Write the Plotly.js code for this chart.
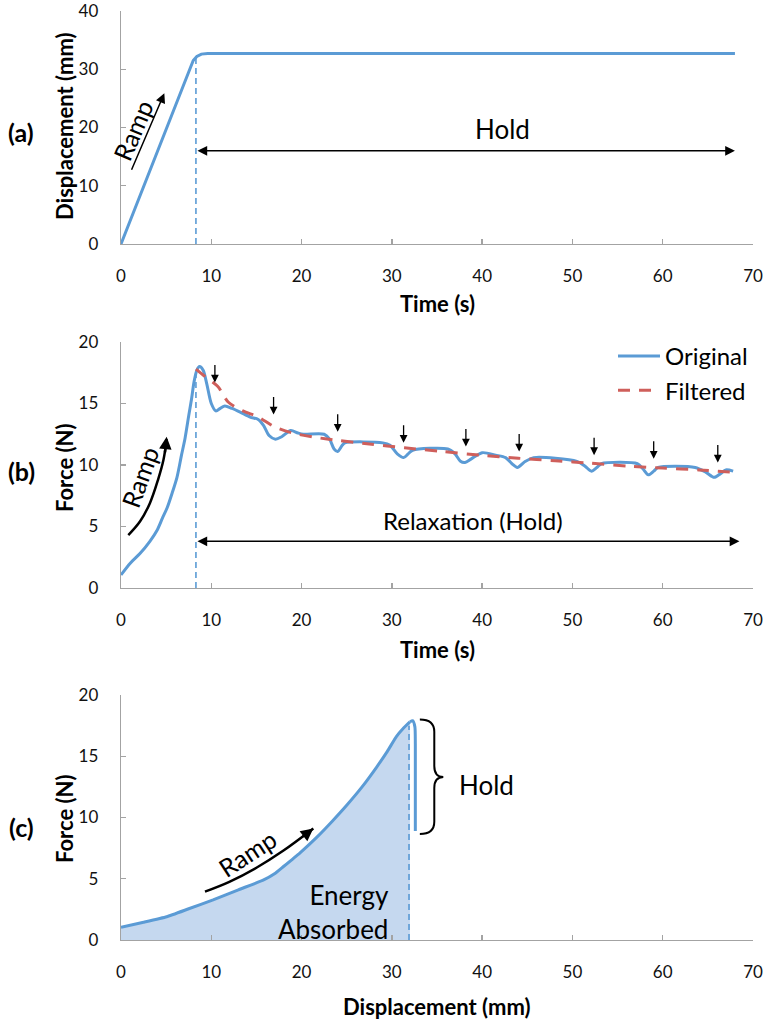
<!DOCTYPE html>
<html><head><meta charset="utf-8">
<script src="https://cdn.plot.ly/plotly-3.0.1.min.js"></script>
<style>html,body{margin:0;padding:0;background:#fff}</style>
</head><body><div id="chart" style="width:772px;height:1022px"></div>
<script>
// ---------- (a) Displacement vs time ----------
const dispTime  = [0, 8.0, 8.4, 8.9, 9.6, 68.0];
const dispValue = [0, 31.5, 32.2, 32.6, 32.7, 32.7];

// ---------- (b) Force vs time ----------
const forceTime = [0, 1.0, 2.1, 3.2, 4.0, 4.6, 5.1, 5.7, 6.2, 6.7, 7.1, 7.5, 7.8, 8.1, 8.4, 8.7, 9.1, 9.5, 10.0, 10.5, 11.0, 11.5, 12.3, 13.2, 14.3, 15.2, 15.8, 16.4, 17.1, 17.8, 18.8, 19.6, 20.2, 22.5, 23.1, 23.6, 24.0, 24.5, 24.8, 29.0, 29.8, 30.6, 31.3, 31.8, 32.3, 36.2, 37.0, 37.6, 38.1, 38.8, 40.0, 41.5, 42.6, 43.3, 43.9, 44.8, 45.7, 50.5, 51.4, 52.1, 52.7, 53.2, 57.2, 57.8, 58.4, 59.0, 59.5, 63.6, 64.8, 65.7, 66.4, 67.0, 67.8];
const forceOriginal = [1.06, 2.0, 2.8, 3.8, 4.7, 5.7, 6.5, 7.8, 9.0, 10.8, 12.2, 14.0, 15.3, 16.8, 17.7, 18.0, 17.7, 16.6, 15.0, 14.4, 14.6, 14.8, 14.6, 14.3, 13.9, 13.7, 13.2, 12.4, 12.1, 12.3, 12.8, 12.6, 12.5, 12.5, 12.1, 11.3, 11.1, 11.6, 11.8, 11.8, 11.6, 10.9, 10.6, 10.9, 11.2, 11.3, 10.9, 10.3, 10.2, 10.5, 11.0, 10.8, 10.6, 10.1, 9.8, 10.3, 10.6, 10.3, 9.9, 9.5, 9.8, 10.1, 10.1, 9.7, 9.2, 9.5, 9.8, 9.8, 9.4, 9.0, 9.3, 9.6, 9.5];
const filteredTime  = [8.3, 9.3, 10.7, 11.9, 13.5, 15.2, 17.0, 19.0, 21.5, 24.0, 27.5, 31.4, 35.5, 39.8, 44.0, 48.1, 52.0, 56.4, 60.0, 64.0, 68.0];
const forceFiltered = [17.8, 17.2, 16.4, 15.1, 14.4, 13.9, 13.1, 12.6, 12.25, 12.0, 11.7, 11.4, 11.1, 10.8, 10.55, 10.35, 10.15, 9.9, 9.75, 9.6, 9.4];

// ---------- (c) Force vs displacement ----------
const rampDisp  = [0, 2.5, 5.06, 7.5, 10.2, 13.0, 15.8, 17.0, 18.0, 19.8, 21.7, 23.4, 25.0, 26.7, 28.3, 29.5, 30.5, 31.3, 32.0];
const rampForce = [1.04, 1.45, 1.9, 2.55, 3.27, 4.1, 4.9, 5.4, 6.0, 7.1, 8.4, 9.7, 11.0, 12.5, 14.1, 15.4, 16.6, 17.3, 17.8];
const holdDisp  = [32.0, 32.3, 32.55, 32.6, 32.6];
const holdForce = [17.8, 17.9, 17.4, 16.0, 8.9];

// ---------- annotation values ----------
const rampEndTime = 8.3, rampEndDisp = 31.9;
const holdEndTime = 68.0;
const dipTimes      = [10.4, 16.9, 24.0, 31.3, 38.2, 44.1, 52.4, 59.0, 66.1];
const dipArrowForce = [16.7, 14.1, 12.7, 11.8, 11.5, 11.1, 10.8, 10.5, 10.2];
const rampArrowB_t = [0.81, 2.1, 3.2, 4.1, 4.7, 5.06];
const rampArrowB_f = [4.3, 5.4, 6.9, 8.8, 10.4, 12.1];
const rampArrowC_d = [9.3, 12.0, 15.0, 18.0, 21.3];
const rampArrowC_f = [3.95, 4.75, 5.9, 7.3, 9.1];
const tickLabelsX = ['0','10','20','30','40','50','60','70'];

const BLUE = '#5b9bd5', RED = '#cf5f5b', FILL = '#c5d8ef', AXC = '#a3a3a3';
const FONT = 'Lato, "Open Sans", sans-serif';
const W = 772, H = 1022;
const px = v => v / W, py = v => 1 - v / H;

const xDomain = [px(121), px(753)];
function xAxis(anchor) {
  return {domain: xDomain, anchor, range: [0, 70], tickvals: [0,10,20,30,40,50,60,70], ticktext: tickLabelsX,
    showgrid: false, zeroline: false, showline: true, linecolor: AXC, linewidth: 1.3,
    ticks: 'inside', ticklen: 5, tickcolor: AXC, tickwidth: 1.3, ticklabelstandoff: 16, ticklabeloverflow: 'allow',
    tickfont: {family: FONT, size: 17, color: '#111'}, fixedrange: true};
}
function yAxis(anchor, dom, rng, dt) {
  return {domain: dom, anchor, range: rng, dtick: dt, tick0: 0,
    showgrid: false, zeroline: false, showline: true, linecolor: AXC, linewidth: 1.3,
    ticks: 'inside', ticklen: 5, tickcolor: AXC, tickwidth: 1.3, ticklabelstandoff: 18, ticklabeloverflow: 'allow',
    tickfont: {family: FONT, size: 17, color: '#111'}, fixedrange: true};
}

const traces = [
  {x: dispTime, y: dispValue, xaxis: 'x', yaxis: 'y', mode: 'lines', line: {color: BLUE, width: 3}, showlegend: false},
  {x: forceTime, y: forceOriginal, xaxis: 'x2', yaxis: 'y2', mode: 'lines', name: 'Original', line: {color: BLUE, width: 3, shape: 'spline', smoothing: 0.8}},
  {x: filteredTime, y: forceFiltered, xaxis: 'x2', yaxis: 'y2', mode: 'lines', name: 'Filtered', line: {color: RED, width: 3, dash: '12px,9px', shape: 'spline', smoothing: 0.8}},
  {x: rampDisp, y: rampForce, xaxis: 'x3', yaxis: 'y3', mode: 'lines', fill: 'tozeroy', fillcolor: FILL, line: {color: BLUE, width: 3, shape: 'spline', smoothing: 0.4}, showlegend: false},
  {x: holdDisp, y: holdForce, xaxis: 'x3', yaxis: 'y3', mode: 'lines', line: {color: BLUE, width: 3, shape: 'spline', smoothing: 0.6}, showlegend: false},
  {x: rampArrowB_t, y: rampArrowB_f, xaxis: 'x2', yaxis: 'y2', mode: 'lines', line: {color: '#000', width: 2.5, shape: 'spline'}, showlegend: false},
  {x: rampArrowC_d, y: rampArrowC_f, xaxis: 'x3', yaxis: 'y3', mode: 'lines', line: {color: '#000', width: 2.5, shape: 'spline'}, showlegend: false}
];

const shapes = [
  {type: 'line', xref: 'x', yref: 'y', x0: rampEndTime, x1: rampEndTime, y0: 0, y1: 32.1, line: {color: BLUE, width: 1.6, dash: '6px,4px'}},
  {type: 'line', xref: 'x2', yref: 'y2', x0: rampEndTime, x1: rampEndTime, y0: 0, y1: 17.7, line: {color: BLUE, width: 1.6, dash: '6px,4px'}},
  {type: 'line', xref: 'x3', yref: 'y3', x0: rampEndDisp, x1: rampEndDisp, y0: 0, y1: 17.5, line: {color: BLUE, width: 1.6, dash: '6px,4px'}},
  {type: 'path', xref: 'x3', yref: 'y3', line: {color: '#000', width: 2},
   path: 'M33.1,18.0 Q34.7,18.0 34.7,17.0 L34.7,14.2 Q34.7,13.3 35.7,13.3 Q34.7,13.3 34.7,12.4 L34.7,9.65 Q34.7,8.65 33.1,8.65'}
];

const tfont = (s, b) => ({family: FONT, size: s, color: '#000', weight: b ? 'bold' : 'normal'});
const ann = [];
const P = {xref: 'paper', yref: 'paper', xanchor: 'center', yanchor: 'middle', showarrow: false};
// panel labels
[['(a)', 132], ['(b)', 471], ['(c)', 827]].forEach(([t, y]) => ann.push(Object.assign({}, P, {x: px(21), y: py(y), text: '<b>' + t + '</b>', font: tfont(25, true)})));
// y titles
[['Displacement (mm)', 126], ['Force (N)', 468], ['Force (N)', 819]].forEach(([t, y]) => ann.push(Object.assign({}, P, {x: px(64), y: py(y), text: '<b>' + t + '</b>', textangle: -90, font: tfont(22, true)})));
// x titles
[['Time (s)', 303], ['Time (s)', 649], ['Displacement (mm)', 1006]].forEach(([t, y]) => ann.push(Object.assign({}, P, {x: px(437), y: py(y), text: '<b>' + t + '</b>', font: tfont(22, true)})));
// (a) annotations
ann.push({xref: 'x', yref: 'y', x: 42.3, y: 19.75, xanchor: 'center', yanchor: 'middle', text: 'Hold', showarrow: false, font: tfont(26)});
ann.push({xref: 'x', yref: 'y', x: holdEndTime, y: 16.0, axref: 'x', ayref: 'y', ax: rampEndTime, ay: 16.0, text: '', showarrow: true, arrowside: 'end+start', arrowhead: 2, arrowsize: 1.3, arrowwidth: 1.5, arrowcolor: '#000'});
ann.push({xref: 'x', yref: 'y', x: 1.35, y: 19.5, xanchor: 'center', yanchor: 'middle', text: 'Ramp', textangle: -67, showarrow: false, font: tfont(25)});
ann.push({xref: 'x', yref: 'y', x: 4.8, y: 25.9, axref: 'x', ayref: 'y', ax: 1.1, ay: 12.5, text: '', showarrow: true, arrowhead: 2, arrowsize: 1.3, arrowwidth: 1.5, arrowcolor: '#000'});
// (b) annotations
ann.push({xref: 'x2', yref: 'y2', x: 39.0, y: 5.45, xanchor: 'center', yanchor: 'middle', text: 'Relaxation (Hold)', showarrow: false, font: tfont(24)});
ann.push({xref: 'x2', yref: 'y2', x: 68.5, y: 3.8, axref: 'x2', ayref: 'y2', ax: rampEndTime, ay: 3.8, text: '', showarrow: true, arrowside: 'end+start', arrowhead: 2, arrowsize: 1.3, arrowwidth: 1.5, arrowcolor: '#000'});
ann.push({xref: 'x2', yref: 'y2', x: 2.1, y: 9.0, xanchor: 'center', yanchor: 'middle', text: 'Ramp', textangle: -70, showarrow: false, font: tfont(25)});
ann.push({xref: 'x2', yref: 'y2', x: 5.06, y: 12.3, axref: 'x2', ayref: 'y2', ax: 4.85, ay: 10.9, text: '', showarrow: true, arrowhead: 2, arrowsize: 1, arrowwidth: 2.5, arrowcolor: '#000'});
dipTimes.forEach((t, i) => ann.push({xref: 'x2', yref: 'y2', x: t, y: dipArrowForce[i], ax: 0, ay: -19, text: '', showarrow: true, arrowhead: 2, arrowsize: 1.2, arrowwidth: 1.3, arrowcolor: '#000'}));
// (c) annotations
ann.push({xref: 'x3', yref: 'y3', x: 40.5, y: 12.65, xanchor: 'center', yanchor: 'middle', text: 'Hold', showarrow: false, font: tfont(26)});
ann.push({xref: 'x3', yref: 'y3', x: 14.0, y: 7.1, xanchor: 'center', yanchor: 'middle', text: 'Ramp', textangle: -33, showarrow: false, font: tfont(25)});
ann.push({xref: 'x3', yref: 'y3', x: 21.3, y: 9.1, axref: 'x3', ayref: 'y3', ax: 20.0, ay: 8.35, text: '', showarrow: true, arrowhead: 2, arrowsize: 1, arrowwidth: 2.5, arrowcolor: '#000'});
ann.push({xref: 'x3', yref: 'y3', x: 29.9, y: 2.3, xanchor: 'right', yanchor: 'middle', align: 'right', text: 'Energy<br>Absorbed', showarrow: false, font: tfont(26)});

const layout = {
  width: W, height: H, margin: {l: 0, r: 0, t: 0, b: 0},
  paper_bgcolor: '#fff', plot_bgcolor: 'rgba(0,0,0,0)',
  xaxis: xAxis('y'), yaxis: yAxis('x', [py(244), py(11)], [0, 40], 10),
  xaxis2: xAxis('y2'), yaxis2: yAxis('x2', [py(588), py(342)], [0, 20], 5),
  xaxis3: xAxis('y3'), yaxis3: yAxis('x3', [py(940), py(695)], [0, 20], 5),
  showlegend: true,
  legend: {x: px(613), y: py(334), xanchor: 'left', yanchor: 'top', bgcolor: 'rgba(0,0,0,0)', itemwidth: 42,
    font: {family: FONT, size: 24, color: '#000'}, tracegroupgap: 0},
  shapes, annotations: ann
};
Plotly.newPlot('chart', traces, layout, {staticPlot: true, displayModeBar: false});
</script></body></html>
